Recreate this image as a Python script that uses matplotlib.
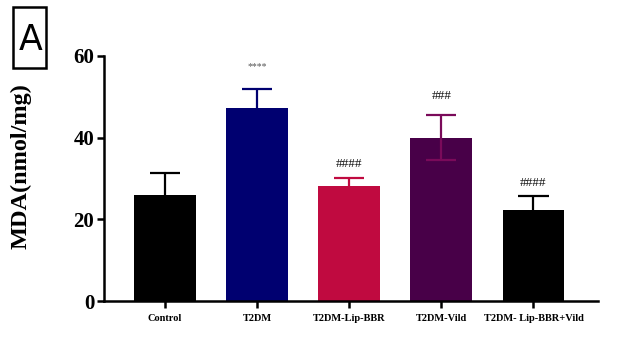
import matplotlib
matplotlib.use("Agg")
import matplotlib.pyplot as plt
from matplotlib.patches import Rectangle

categories = ["Control", "T2DM", "T2DM-Lip-BBR", "T2DM-Vild", "T2DM- Lip-BBR+Vild"]
means = [26.0, 47.3, 28.2, 40.0, 22.2]
err_up = [5.3, 4.6, 1.9, 5.6, 3.6]
err_low = [0.0, 0.0, 0.0, 5.4, 0.0]
marks = ["", "****", "####", "###", "####"]
mark_y = [None, 57.5, 33.6, 50.2, 28.8]
bar_colors = ["#000000", "#000070", "#C00A40", "#480048", "#000000"]
err_colors = ["#000000", "#000070", "#C00A40", "#7A0A5A", "#000000"]
yticks = [0, 20, 40, 60]

plt.rcParams['font.family'] = ['Liberation Serif', 'DejaVu Serif']

fig = plt.figure(figsize=(6.19, 3.56), dpi=100)
ax = fig.add_axes([0.168, 0.154, 0.798, 0.689])
x = list(range(len(categories)))
ax.bar(x, means, width=0.67, color=bar_colors, zorder=2)
cap = 0.165
for i in x:
    lo = means[i] - err_low[i]
    hi = means[i] + err_up[i]
    ax.vlines(i, lo, hi, color=err_colors[i], linewidth=1.6, zorder=3)
    ax.hlines(hi, i - cap, i + cap, color=err_colors[i], linewidth=1.6, zorder=3)
    if err_low[i] > 0:
        ax.hlines(lo, i - cap, i + cap, color=err_colors[i], linewidth=1.6, zorder=3)
for i in x:
    if marks[i]:
        star = marks[i].startswith("*")
        ax.text(i, mark_y[i], marks[i], ha='center', va='center',
                fontsize=7 if star else 9.5, color="#555555" if star else "#111111")

ax.set_xlim(-0.66, 4.70)
ax.set_ylim(0, 60)
ax.set_yticks(yticks)
ax.set_yticklabels([str(v) for v in yticks], fontsize=15, fontweight='bold')
ax.set_xticks(x)
ax.set_xticklabels(categories, fontsize=7.5, fontweight='bold')
for s in ['top', 'right']:
    ax.spines[s].set_visible(False)
for s in ['left', 'bottom']:
    ax.spines[s].set_linewidth(1.8)
ax.tick_params(axis='both', width=1.8, length=5, pad=2)
ax.tick_params(axis='x', pad=4)
ax.set_ylabel("MDA(nmol/mg)", fontsize=17.5, fontweight='bold')
ax.yaxis.set_label_coords(-0.146, 0.55)

fig.patches.append(Rectangle((13/619, 1-68/356), 33/619, 61/356, transform=fig.transFigure,
                             fill=False, edgecolor='black', linewidth=1.8))
fig.text(31/619, 1-40/356, "A", ha='center', va='center', fontsize=25,
         family=['DejaVu Sans'])

fig.savefig("out.png", dpi=100)
